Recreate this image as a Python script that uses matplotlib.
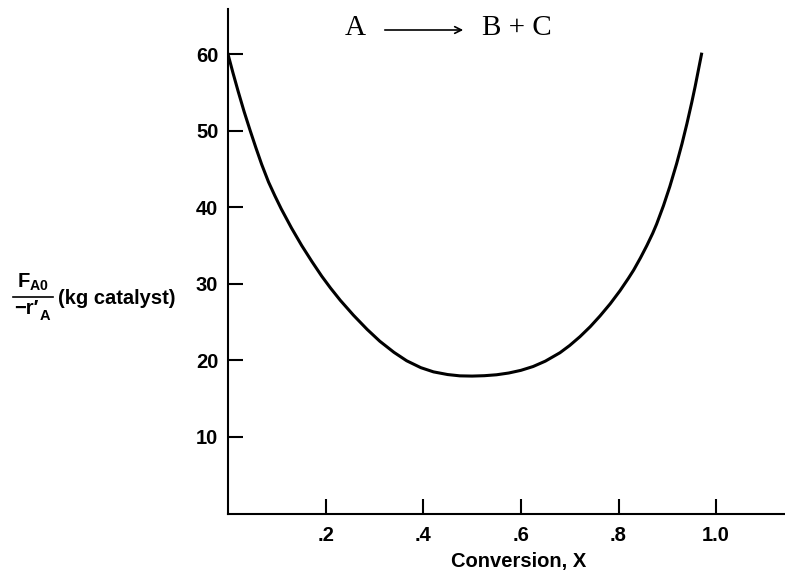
import numpy as np
import matplotlib
matplotlib.use('Agg')
import matplotlib.pyplot as plt
from matplotlib.lines import Line2D
from matplotlib.patches import FancyArrowPatch

# values
conv = [0, 0.01, 0.021, 0.033, 0.045, 0.057, 0.069, 0.083, 0.096, 0.109,
        0.13, 0.151, 0.172, 0.192, 0.21, 0.23, 0.257, 0.285, 0.311, 0.34,
        0.366, 0.395, 0.421, 0.45, 0.475, 0.5, 0.525, 0.55, 0.575, 0.6,
        0.625, 0.65, 0.68, 0.70, 0.721, 0.742, 0.762, 0.783, 0.803, 0.82,
        0.831, 0.845, 0.858, 0.87, 0.878, 0.892, 0.905, 0.919, 0.93, 0.94,
        0.95, 0.957, 0.97]
levenspiel = [60, 57.6, 55.1, 52.5, 50.1, 47.8, 45.6, 43.3, 41.5, 39.8,
              37.3, 35.0, 32.9, 31.0, 29.45, 27.85, 25.9, 24.05, 22.5, 21.05,
              19.95, 19.05, 18.5, 18.15, 17.98, 17.95, 18.0, 18.12, 18.35, 18.7,
              19.2, 19.9, 21.0, 21.95, 23.1, 24.4, 25.8, 27.4, 29.1, 30.7,
              31.8, 33.4, 35.0, 36.6, 37.8, 40.2, 42.7, 45.7, 48.3, 50.9,
              53.7, 55.8, 60]

xticks = [0.2, 0.4, 0.6, 0.8, 1.0]
xticklabels = ['.2', '.4', '.6', '.8', '1.0']
yticks = [10, 20, 30, 40, 50, 60]

plt.rcParams['font.family'] = ['Liberation Sans', 'DejaVu Sans']
plt.rcParams['mathtext.fontset'] = 'custom'
plt.rcParams['mathtext.rm'] = 'Liberation Sans:bold'
plt.rcParams['mathtext.it'] = 'Liberation Sans:bold'
plt.rcParams['mathtext.bf'] = 'Liberation Sans:bold'

W, H = 785, 575
fig = plt.figure(figsize=(W / 100, H / 100), dpi=100)
ax = fig.add_axes([228 / W, 61.5 / H, 557 / W, 504.5 / H])

ax.plot(conv, levenspiel, color='black', lw=2.2)

ax.set_xlim(0, 1.141)
ax.set_ylim(0, 65.9)
ax.spines['top'].set_visible(False)
ax.spines['right'].set_visible(False)
for s in ['left', 'bottom']:
    ax.spines[s].set_linewidth(1.5)

ax.set_xticks(xticks)
ax.set_xticklabels(xticklabels)
ax.set_yticks(yticks)
ax.tick_params(direction='in', length=11, width=1.5, labelsize=14.5, colors='black')
ax.tick_params(axis='y', pad=7)
ax.tick_params(axis='x', pad=9)
for lab in ax.get_xticklabels() + ax.get_yticklabels():
    lab.set_fontweight('bold')

ax.set_xlabel('Conversion, X', fontsize=14.5, fontweight='bold')
ax.xaxis.set_label_coords((519 - 228) / 557, -0.077)

# y label: F_A0 / -r'_A (kg catalyst)
fig.text(33 / W, 1 - 288 / H, r'$F_{A0}$', fontsize=14.5, ha='center', va='baseline')
fig.text(14 / W, 1 - 314 / H, '\u2212r\u2032', fontsize=14.5, fontweight='bold',
         ha='left', va='baseline')
fig.text(40 / W, 1 - 320 / H, 'A', fontsize=10.5, fontweight='bold',
         ha='left', va='baseline')
fig.add_artist(Line2D([13 / W, 53 / W], [1 - 297 / H, 1 - 297 / H],
                      transform=fig.transFigure, color='black', lw=1.2))
fig.text(58 / W, 1 - 298 / H, '(kg catalyst)', fontsize=14.5,
         fontweight='bold', ha='left', va='center')

# reaction
fig.text(355 / W, 1 - 28 / H, 'A', family='Liberation Serif', fontsize=21,
         ha='center', va='center')
fig.text(517 / W, 1 - 28 / H, 'B + C', family='Liberation Serif',
         fontsize=21, ha='center', va='center')
fig.add_artist(FancyArrowPatch(
    (382 / W, 1 - 30 / H), (466 / W, 1 - 30 / H),
    transform=fig.transFigure, arrowstyle='->', mutation_scale=12,
    color='black', lw=1.2))

fig.savefig('out.png', dpi=100)
